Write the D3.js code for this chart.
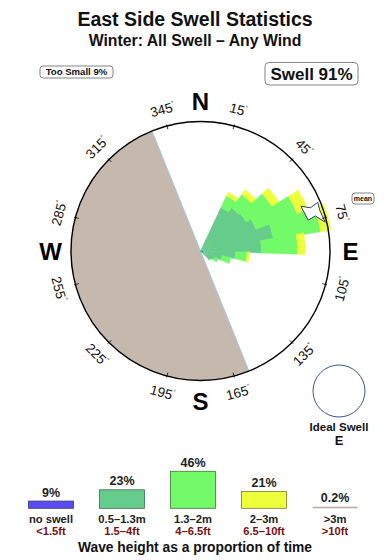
<!DOCTYPE html>
<html>
<head>
<meta charset="utf-8">
<script src="https://cdn.jsdelivr.net/npm/d3@7"></script>
<style>
  html, body { margin: 0; padding: 0; background: #fff; }
  svg { display: block; font-family: "Liberation Sans", Arial, Helvetica, sans-serif; }
</style>
</head>
<body>
<svg id="chart" width="390" height="560"></svg>
<script>
// ---------- data ----------
const directions = [31, 42, 53, 64, 75, 86, 97, 108, 119, 130];      // bearing of each rose wedge (deg)
const small   = [3.7, 4.1, 4.2, 4.6, 5.7, 4.7, 2.7, 1.7, 1.2, 1.0];  // 0.5-1.3m
const medium  = [1.0, 1.3, 2.3, 3.4, 3.7, 2.8, 0.9, 0.7, 0.3, 0.0];  // 1.3-2m
const large   = [0.3, 0.45, 0.65, 0.9, 0.8, 0.6, 0.2, 0.0, 0.0, 0.0]; // 2-3m
const compassTicks = [15, 45, 75, 105, 135, 165, 195, 225, 255, 285, 315, 345];
const cardinals = ["N", "E", "S", "W"];
const landFrom = 158, landTo = 338;   // land sector (bearing)

const legendCats   = ["no swell", "0.5\u20131.3m", "1.3\u20132m", "2\u20133m", ">3m"];
const legendFeet   = ["<1.5ft", "1.5\u20134ft", "4\u20136.5ft", "6.5\u201310ft", ">10ft"];
const legendPct    = [9, 23, 46, 21, 0.2];
const legendLabels = ["9%", "23%", "46%", "21%", "0.2%"];
const legendColors = ["#5a4cf0", "#66cc8c", "#72fa68", "#eeff3c", "#c2aaa2"];
const legendStroke = ["#3a3a7a", "#3c6e50", "#3c7a3a", "#7a7a30", "#a09088"];

// ---------- setup ----------
const svg = d3.select("#chart");
const cx = 200.5, cy = 251, R = 129.5;
const rad = d => d * Math.PI / 180;

// titles
svg.append("text").attr("x", 195).attr("y", 26).attr("text-anchor", "middle")
  .attr("font-size", 19.5).attr("font-weight", "bold").attr("fill", "#111").text("East Side Swell Statistics");
svg.append("text").attr("x", 195).attr("y", 46).attr("text-anchor", "middle")
  .attr("font-size", 15.8).attr("font-weight", "bold").attr("fill", "#111").text("Winter: All Swell \u2013 Any Wind");

// boxes
function box(x, y, w, h, txt, fs, rx) {
  svg.append("rect").attr("x", x).attr("y", y).attr("width", w).attr("height", h)
    .attr("rx", rx).attr("fill", "#fff").attr("stroke", "#666").attr("stroke-width", 0.8);
  svg.append("text").attr("x", x + w / 2).attr("y", y + h / 2).attr("dy", "0.36em")
    .attr("text-anchor", "middle").attr("font-size", fs).attr("font-weight", "bold").attr("fill", "#111").text(txt);
}
box(40, 66, 73, 12, "Too Small 9%", 9.6, 3);
box(265, 62.5, 93, 22.5, "Swell 91%", 17, 4);
box(352, 193, 22, 11, "mean", 7, 3);

const g = svg.append("g").attr("transform", `translate(${cx},${cy})`);

// rose radial scale
const rScale = d3.scaleLinear().domain([0, 10]).range([0, R]);
const arc = d3.arc();
const halfW = 5.9;

// land sector
g.append("path")
  .attr("d", arc({innerRadius: 0, outerRadius: R, startAngle: rad(landFrom), endAngle: rad(landTo)}))
  .attr("fill", "#c5b9ad");
g.append("line")
  .attr("x1", R * Math.sin(rad(landTo))).attr("y1", -R * Math.cos(rad(landTo)))
  .attr("x2", R * Math.sin(rad(landFrom))).attr("y2", -R * Math.cos(rad(landFrom)))
  .attr("stroke", "#a8c8ec").attr("stroke-width", 1);

// rose wedges
const bands = [
  {vals: small,  color: "#66cc8c"},
  {vals: medium, color: "#72fa68"},
  {vals: large,  color: "#eeff3c"}
];
directions.forEach((dir, i) => {
  let acc = 0;
  bands.forEach(b => {
    const v = b.vals[i];
    if (v <= 0) return;
    g.append("path")
      .attr("d", arc({innerRadius: rScale(acc), outerRadius: rScale(acc + v),
                      startAngle: rad(dir - halfW), endAngle: rad(dir + halfW)}))
      .attr("fill", b.color).attr("stroke", b.color).attr("stroke-width", 0.4);
    acc += v;
  });
});
// tiny no-swell core
g.append("path")
  .attr("d", arc({innerRadius: 0, outerRadius: 2.5, startAngle: rad(95), endAngle: rad(125)}))
  .attr("fill", "#5a4cf0");

// circle outline
g.append("circle").attr("r", R).attr("fill", "none").attr("stroke", "#000").attr("stroke-width", 1.4);

// mean arrow
const pol = (r, b) => [r * Math.sin(rad(b)), -r * Math.cos(rad(b))];
const arrowPts = [pol(127, 67.5), pol(118, 68.5), pol(110, 66), pol(112, 74), pol(120, 73), pol(128, 77), pol(126, 71)];
g.append("path").attr("d", d3.line()(arrowPts) + "Z")
  .attr("fill", "#fff").attr("stroke", "#1a2a4a").attr("stroke-width", 0.9);

// ticks and degree labels
compassTicks.forEach(b => {
  const [x1, y1] = pol(126, b), [x2, y2] = pol(131, b);
  g.append("line").attr("x1", x1).attr("y1", y1).attr("x2", x2).attr("y2", y2)
    .attr("stroke", "#000").attr("stroke-width", 0.8);
  const [tx, ty] = pol(146.5, b);
  const rot = ((b + 90) % 180) - 90;
  const t = g.append("text").attr("transform", `translate(${tx},${ty}) rotate(${rot})`)
    .attr("text-anchor", "middle").attr("dy", "0.35em").attr("font-size", 13.5).attr("fill", "#111");
  t.append("tspan").text(b);
  t.append("tspan").attr("font-size", 6.5).attr("dy", "-0.95em").text("\u00b0");
});

// cardinals
cardinals.forEach((c, i) => {
  const [tx, ty] = pol(150, i * 90);
  g.append("text").attr("x", tx).attr("y", ty).attr("dy", "0.36em").attr("text-anchor", "middle")
    .attr("font-size", 24).attr("font-weight", "bold").text(c);
});

// ideal swell
svg.append("circle").attr("cx", 339).attr("cy", 391).attr("r", 26)
  .attr("fill", "#fff").attr("stroke", "#3a5a80").attr("stroke-width", 1);
svg.append("text").attr("x", 339).attr("y", 430.5).attr("text-anchor", "middle")
  .attr("font-size", 11.5).attr("font-weight", "bold").attr("fill", "#111").text("Ideal Swell");
svg.append("text").attr("x", 339).attr("y", 445).attr("text-anchor", "middle")
  .attr("font-size", 13).attr("font-weight", "bold").attr("fill", "#111").text("E");

// ---------- legend ----------
const xL = d3.scalePoint().domain(legendCats).range([51, 335]);
const hL = d3.scaleLinear().domain([0, 46]).range([0, 37]);
const baseY = 508.3, barW = 45;
legendCats.forEach((c, i) => {
  const h = Math.max(hL(legendPct[i]), 1.6);
  svg.append("rect").attr("x", xL(c) - barW / 2).attr("y", baseY - h).attr("width", barW).attr("height", h)
    .attr("fill", legendColors[i]).attr("stroke", i === 4 ? "none" : legendStroke[i]).attr("stroke-width", 0.8);
  svg.append("text").attr("x", xL(c)).attr("y", baseY - h - 4.5).attr("text-anchor", "middle")
    .attr("font-size", 12.5).attr("font-weight", "bold").attr("fill", "#222").text(legendLabels[i]);
  svg.append("text").attr("x", xL(c)).attr("y", 522.5).attr("text-anchor", "middle")
    .attr("font-size", 11.2).attr("font-weight", "bold").attr("fill", "#222").text(c);
  svg.append("text").attr("x", xL(c)).attr("y", 535).attr("text-anchor", "middle")
    .attr("font-size", 11.2).attr("font-weight", "bold").attr("fill", "#7a1010").text(legendFeet[i]);
});
svg.append("text").attr("x", 195).attr("y", 551.5).attr("text-anchor", "middle")
  .attr("font-size", 13.8).attr("font-weight", "bold").attr("fill", "#111").text("Wave height as a proportion of time");
</script>
</body>
</html>
